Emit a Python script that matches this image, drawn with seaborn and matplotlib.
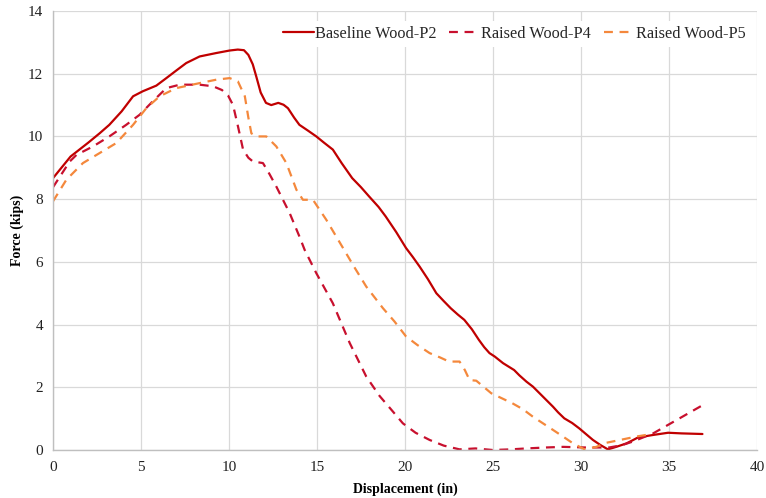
import matplotlib
matplotlib.use("Agg")
import matplotlib.pyplot as plt
import seaborn as sns
import pandas as pd

# Baseline Wood-P2 (solid)
p2_x = [0.0, 1.0, 2.0, 2.65, 3.2, 3.9, 4.55, 5.1, 5.87, 6.44, 7.0, 7.57, 8.33, 9.28, 10.04, 10.5, 10.85, 11.1, 11.35, 11.55, 11.8, 12.1, 12.4, 12.8, 13.1, 13.35, 13.7, 14.0, 14.5, 14.96, 15.4, 15.9, 16.4, 17.0, 17.5, 17.97, 18.5, 18.9, 19.5, 20.06, 20.45, 20.83, 21.3, 21.78, 22.2, 22.6, 23.0, 23.37, 23.8, 24.2, 24.5, 24.8, 25.1, 25.57, 26.2, 26.5, 26.9, 27.27, 27.84, 28.41, 28.7, 29.05, 29.5, 29.9, 30.3, 30.68, 31.1, 31.53, 32.0, 32.58, 32.9, 33.24, 34.1, 34.95, 35.7, 36.9]
p2_y = [8.67, 9.36, 9.8, 10.1, 10.37, 10.8, 11.28, 11.44, 11.62, 11.86, 12.1, 12.34, 12.55, 12.66, 12.74, 12.77, 12.75, 12.6, 12.3, 11.91, 11.4, 11.07, 11.0, 11.07, 11.01, 10.9, 10.6, 10.37, 10.18, 10.0, 9.8, 9.58, 9.15, 8.67, 8.38, 8.08, 7.75, 7.45, 6.95, 6.44, 6.15, 5.85, 5.45, 5.0, 4.75, 4.52, 4.32, 4.15, 3.85, 3.51, 3.28, 3.09, 2.98, 2.77, 2.55, 2.38, 2.18, 2.02, 1.70, 1.38, 1.2, 1.01, 0.86, 0.69, 0.5, 0.32, 0.16, 0.02, 0.1, 0.21, 0.3, 0.40, 0.48, 0.55, 0.53, 0.51]

# Raised Wood-P4 (dashed red)
p4_x = [0.0, 0.95, 1.33, 2.27, 3.2, 4.16, 4.92, 5.67, 6.44, 7.2, 8.33, 9.09, 9.6, 9.95, 10.23, 10.51, 10.8, 11.1, 11.36, 11.93, 12.3, 12.69, 13.45, 14.0, 14.3, 14.96, 15.9, 16.86, 17.8, 18.56, 19.2, 19.88, 20.6, 21.4, 22.2, 23.1, 24.0, 24.98, 26.0, 26.9, 28.0, 28.98, 30.3, 31.6, 32.3, 32.95, 34.1, 35.6, 37.1]
p4_y = [8.38, 9.2, 9.41, 9.68, 10.0, 10.37, 10.69, 11.12, 11.54, 11.65, 11.65, 11.6, 11.48, 11.3, 11.0, 10.32, 9.58, 9.32, 9.2, 9.15, 8.8, 8.4, 7.55, 6.81, 6.38, 5.64, 4.68, 3.41, 2.34, 1.72, 1.3, 0.85, 0.55, 0.32, 0.14, 0.02, 0.05, 0.0, 0.02, 0.05, 0.08, 0.1, 0.08, 0.08, 0.15, 0.27, 0.53, 1.01, 1.49]

# Raised Wood-P5 (dashed orange)
p5_x = [0.0, 0.76, 1.7, 2.65, 3.6, 4.55, 5.3, 6.06, 7.0, 8.33, 9.28, 10.04, 10.51, 10.9, 11.1, 11.27, 11.55, 12.12, 12.69, 13.26, 13.83, 14.2, 14.77, 15.53, 16.48, 17.1, 17.8, 18.75, 19.4, 20.06, 20.7, 21.4, 22.0, 22.5, 23.1, 23.4, 23.67, 24.05, 24.9, 26.1, 26.7, 27.27, 28.41, 29.0, 29.55, 30.2, 30.87, 31.44, 32.39, 33.15, 33.7]
p5_y = [7.93, 8.62, 9.15, 9.47, 9.79, 10.37, 10.9, 11.28, 11.54, 11.7, 11.81, 11.86, 11.75, 11.28, 10.6, 10.1, 10.0, 10.0, 9.68, 9.15, 8.3, 7.98, 7.98, 7.34, 6.44, 5.85, 5.21, 4.52, 4.1, 3.62, 3.35, 3.09, 2.95, 2.82, 2.82, 2.55, 2.23, 2.21, 1.81, 1.49, 1.3, 1.06, 0.64, 0.42, 0.21, 0.02, 0.1, 0.23, 0.34, 0.43, 0.48]

x_ticks = [0, 5, 10, 15, 20, 25, 30, 35, 40]
y_ticks = [0, 2, 4, 6, 8, 10, 12, 14]

series = ["Baseline Wood-P2", "Raised Wood-P4", "Raised Wood-P5"]
colors = ["#C00000", "#C8102E", "#F4883C"]

df = pd.concat([
    pd.DataFrame({"x": p2_x, "y": p2_y, "series": series[0]}),
    pd.DataFrame({"x": p4_x, "y": p4_y, "series": series[1]}),
    pd.DataFrame({"x": p5_x, "y": p5_y, "series": series[2]}),
], ignore_index=True)

sns.set_theme(style="whitegrid")
plt.rcParams["font.family"] = ["Liberation Serif", "DejaVu Serif"]

fig = plt.figure(figsize=(7.66, 4.98), dpi=100)
ax = fig.add_axes([53 / 766, 1 - 450 / 498, (757 - 53) / 766, (450 - 11) / 498])

styles = ["-", (0, (4, 3)), (0, (4, 3))]
for s, c, ls in zip(series, colors, styles):
    sns.lineplot(data=df[df["series"] == s], x="x", y="y", ax=ax, color=c,
                 linestyle=ls, linewidth=1.6, sort=False, estimator=None, label=s)

ax.set_xlim(0, 40)
ax.set_ylim(0, 14)
ax.set_xticks(x_ticks)
ax.set_yticks(y_ticks)
ax.tick_params(axis="x", labelsize=11, length=0, pad=8, colors="#222222")
ax.tick_params(axis="y", labelsize=11, length=0, pad=7, colors="#222222")
ax.grid(True, color="#D9D9D9", linewidth=0.9)
for side in ["top", "right"]:
    ax.spines[side].set_visible(False)
for side in ["left", "bottom"]:
    ax.spines[side].set_color("#BFBFBF")
    ax.spines[side].set_linewidth(1.0)

ax.set_xlabel("Displacement (in)", fontsize=10, fontweight="bold", labelpad=6, color="black")
ax.set_ylabel("Force (kips)", fontsize=10, fontweight="bold", labelpad=3, color="black")

leg = ax.legend(loc="upper right", bbox_to_anchor=(0.995, 0.985), ncol=3, frameon=True,
                fontsize=11.7, handlelength=1.9, handletextpad=0.05, columnspacing=0.8,
                borderaxespad=0.2, borderpad=0.3)
leg.get_frame().set_facecolor("white")
leg.get_frame().set_edgecolor("none")
leg.get_frame().set_alpha(1.0)

fig.savefig("out.png", dpi=100)
